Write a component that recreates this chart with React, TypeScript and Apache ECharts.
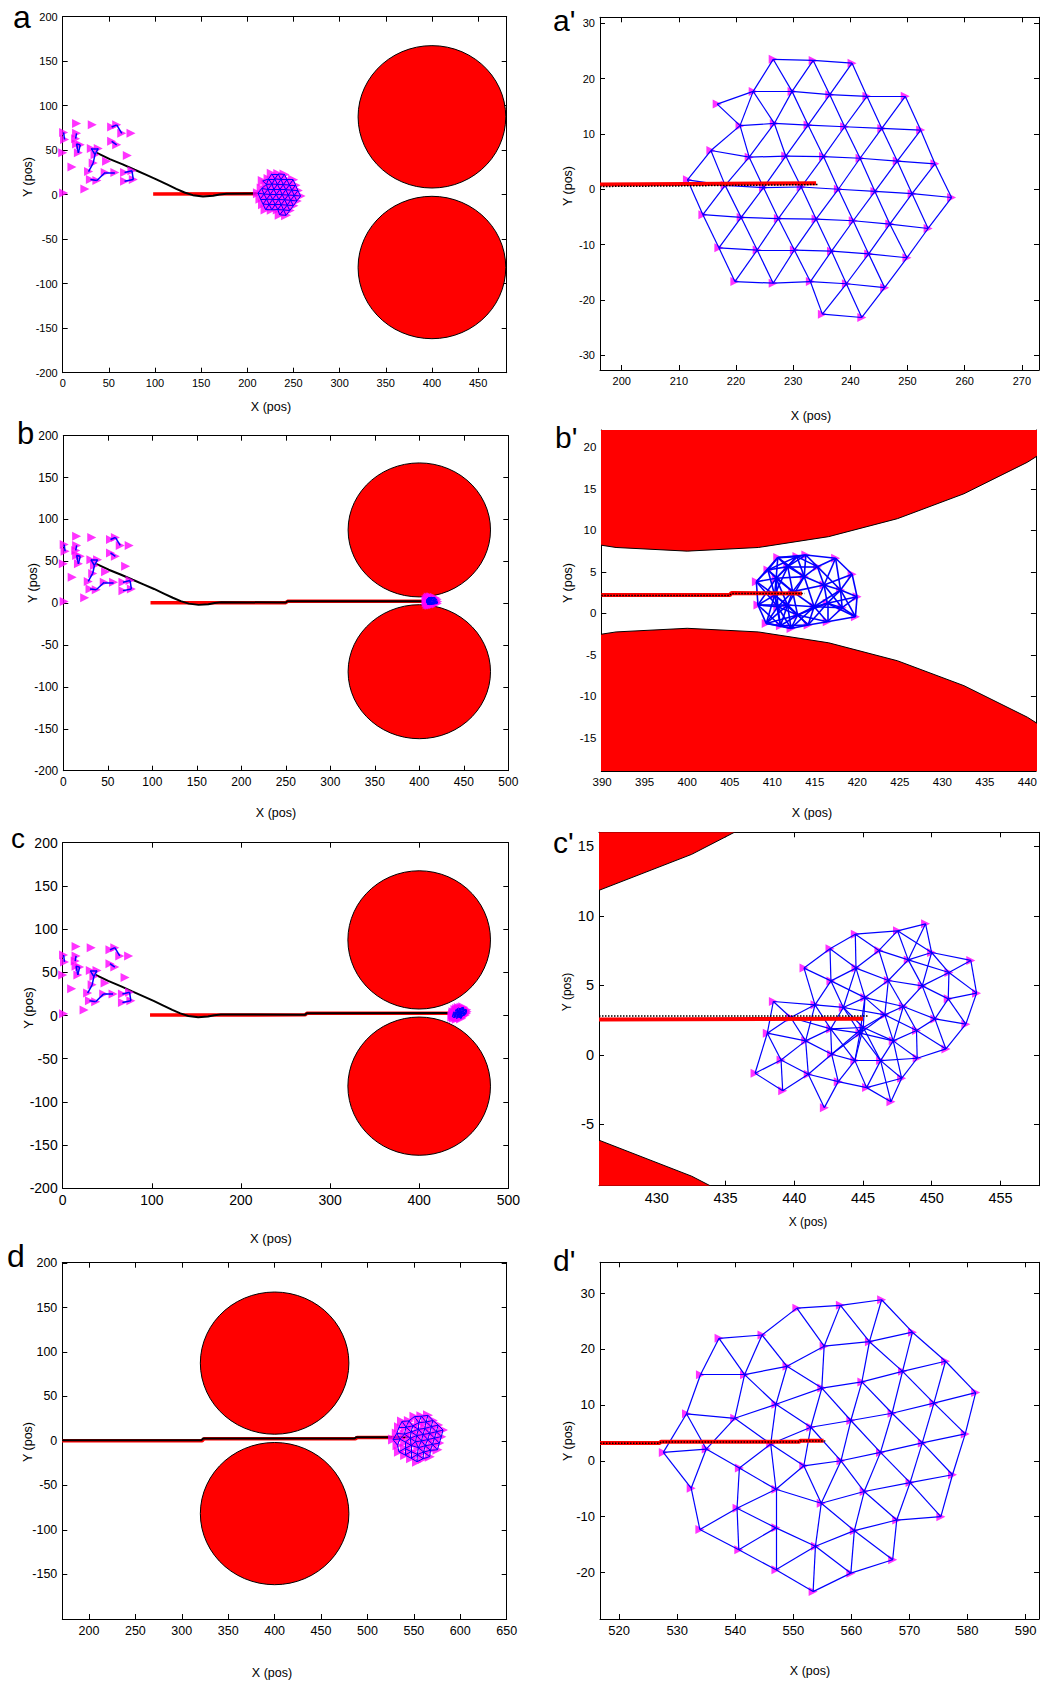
import React, { useEffect, useRef } from 'react';
import * as echarts from 'echarts';

const FONT = '"Liberation Sans", Arial, Helvetica, sans-serif';

// ---------- tick values ----------
const aXTicks = [0, 50, 100, 150, 200, 250, 300, 350, 400, 450];
const aYTicks = [-200, -150, -100, -50, 0, 50, 100, 150, 200];
const aPXTicks = [200, 210, 220, 230, 240, 250, 260, 270];
const aPYTicks = [-30, -20, -10, 0, 10, 20, 30];
const bXTicks = [0, 50, 100, 150, 200, 250, 300, 350, 400, 450, 500];
const bYTicks = [-200, -150, -100, -50, 0, 50, 100, 150, 200];
const bPXTicks = [390, 395, 400, 405, 410, 415, 420, 425, 430, 435, 440];
const bPYTicks = [-15, -10, -5, 0, 5, 10, 15, 20];
const cXTicks = [0, 100, 200, 300, 400, 500];
const cYTicks = [-200, -150, -100, -50, 0, 50, 100, 150, 200];
const cPXTicks = [430, 435, 440, 445, 450, 455];
const cPYTicks = [-5, 0, 5, 10, 15];
const dXTicks = [200, 250, 300, 350, 400, 450, 500, 550, 600, 650];
const dYTicks = [-150, -100, -50, 0, 50, 100, 150, 200];
const dPXTicks = [520, 530, 540, 550, 560, 570, 580, 590];
const dPYTicks = [-20, -10, 0, 10, 20, 30];

// ---------- obstacles (circle centres and radii) ----------
const obstacleCenterX = [400, 400];
const obstacleCenterY = [87.5, -81.8];
const obstacleRadius = [80, 80];

// ---------- initial scattered robots ----------
const initialRobots = [
  [15, 80], [32, 78.5], [1, 70], [2, 62], [15, 69], [14, 63],
  [53, 76], [58.5, 78.5], [64, 69], [74, 69],
  [53, 60], [58.5, 56],
  [0, 47], [15, 57], [17, 47], [19, 56],
  [31, 52], [38.5, 52], [35, 45], [33, 35.5], [28, 26],
  [47.5, 37.5], [70, 44], [10, 31],
  [30, 17], [37, 16], [46, 25], [56.5, 25],
  [67, 25], [75, 27], [67, 15], [76.5, 17],
  [24, 6.5], [1, 2],
];
const initialLinks = [
  [2, 3], [4, 5], [6, 7], [7, 8], [10, 11], [13, 14], [13, 15], [14, 15],
  [16, 17], [16, 18], [17, 18], [18, 19], [19, 20], [24, 25], [25, 26], [26, 27],
  [28, 29], [29, 31], [30, 31],
];

// ---------- formation nodes ----------
const meshA = [
  [226.5, 23.5], [233.5, 23.3], [240.3, 22.8],
  [216.7, 15.4], [223.0, 17.7], [229.8, 17.7], [236.4, 17.1], [242.9, 16.8], [249.6, 16.8],
  [220.7, 11.5], [226.7, 11.9], [232.6, 11.6], [239.0, 11.3], [245.5, 11.0], [252.3, 10.7],
  [215.6, 7.0], [222.3, 5.8], [228.7, 6.0], [235.3, 5.9], [241.7, 5.6], [248.2, 5.1], [254.8, 4.6],
  [211.5, 1.7], [218.1, 0.7], [224.8, 0.3], [231.4, 0.4], [237.9, 0.0], [244.3, -0.4], [250.8, -0.8], [257.7, -1.5],
  [214.2, -4.6], [220.9, -5.1], [227.4, -5.3], [234.0, -5.4], [240.5, -5.7], [246.9, -6.3], [253.6, -7.1],
  [217.0, -10.6], [223.7, -11.0], [230.2, -11.0], [236.7, -11.2], [243.2, -11.7], [249.9, -12.4],
  [219.8, -16.7], [226.5, -17.0], [233.0, -16.7], [239.3, -17.1], [246.0, -17.8],
  [235.1, -22.6], [242.0, -23.2],
];
const meshB = [
  [410.65, 6.72], [412.9, 6.84], [413.95, 7.04], [417.45, 6.64],
  [409.49, 5.23], [411.82, 5.63], [415.31, 5.63], [419.39, 4.71],
  [408.13, 3.82], [410.46, 4.23], [413.76, 4.43], [416.09, 3.42], [418.03, 2.82], [419.97, 2.01],
  [412.4, 2.62], [410.28, 2.21], [408.32, 1.01], [410.65, 0.8], [414.92, 0.8], [416.47, 1.21],
  [418.22, 0.68], [419.78, -0.4], [409.29, -1.21], [410.96, -1.49], [412.21, -1.81], [414.22, -1.41],
  [416.47, -1.01], [411.8, 1.0], [412.98, -0.2],
];
const meshC = [
  [449.55, 9.42], [447.51, 8.92], [444.44, 8.68], [442.6, 7.63], [446.16, 7.51], [449.99, 7.36],
  [452.84, 6.79], [440.71, 6.24], [444.49, 6.24], [448.29, 6.83], [451.25, 5.92], [442.67, 5.32],
  [446.84, 5.35], [449.31, 4.96], [453.26, 4.44], [438.48, 3.84], [441.51, 3.6], [443.57, 3.41],
  [445.14, 4.12], [447.93, 3.48], [451.2, 4.03], [439.74, 2.69], [446.59, 2.88], [450.23, 2.59],
  [452.48, 2.21], [438.04, 1.56], [442.65, 1.87], [444.78, 1.56], [445.02, 1.97], [448.89, 1.75],
  [440.83, 1.01], [447.2, 1.01], [451.03, 0.43], [439.04, -0.36], [442.72, 0.05], [444.41, -0.41],
  [446.28, -0.41], [448.94, -0.24], [437.15, -1.32], [441.02, -1.39], [443.2, -1.92], [447.81, -1.68],
  [439.16, -2.57], [445.26, -2.35], [442.19, -3.79], [447.03, -3.36],
];
const meshD = [
  [550.6, 27.3], [558.1, 27.8], [565.2, 28.8],
  [537.2, 21.9], [544.6, 22.5], [555.3, 20.5], [563.1, 21.3], [570.5, 23.0],
  [534.0, 15.4], [541.6, 15.4], [548.9, 16.9], [554.9, 13.0], [561.8, 14.1], [568.8, 16.0], [576.2, 17.8],
  [531.6, 8.4], [539.9, 7.6], [547.0, 10.1], [553.0, 6.0], [559.9, 7.2], [567.0, 8.5], [574.2, 10.3], [581.4, 12.2],
  [527.6, 1.5], [535.0, 2.1], [546.1, 3.0], [551.8, -0.9], [558.2, 0.0], [565.0, 1.5], [572.2, 3.2], [579.6, 4.8],
  [532.4, -4.9], [540.7, -1.3], [547.0, -5.1], [554.8, -7.6], [562.2, -5.5], [570.1, -3.9], [577.4, -2.5],
  [533.9, -12.3], [540.3, -8.5], [547.0, -12.0], [553.8, -15.3], [560.5, -12.5], [567.8, -10.6], [575.4, -10.0],
  [540.6, -15.9], [547.0, -19.5], [553.4, -23.4], [559.9, -20.1], [567.1, -17.7],
];

// ---------- trajectories ----------
const blackCurve = [
  [37, 47], [51, 40], [65, 34], [78, 28], [90, 22.5], [102, 17], [113, 11.5], [123, 6.5],
  [132, 2.5], [141, -0.5], [152, -2], [163, -1.2], [170, 0.3], [177.5, 1.2],
];
const blackTailA = [[212, 1.5]];
const redA = [[98, 0.8], [210, 1.2]];
const blackTailB = [[250, 0.8], [252, 2.3], [408, 2.3]];
const redB = [[98, 0.4], [250, 0.6], [252, 2.2], [406, 2.2]];
const blackTailC = [[272, 1], [274, 2.6], [438, 2.8]];
const redC = [[98, 0.5], [272, 0.8], [274, 2.5], [438, 2.6]];
const blackD = [[171, 0.6], [321, 0.6], [323, 2.7], [486, 2.7], [488, 4.2], [545, 4.2]];
const redD = [[171, 0.3], [322, 0.3], [324, 2.3], [487, 2.3], [489, 3.8], [540, 3.8]];
const redAP = [[196.2, 0.85], [211, 0.95], [234, 1.1]];
const blackAP = [[196.2, 0.5], [210, 0.6], [234.5, 0.85]];
const redBP = [[389.9, 2.2], [405, 2.2], [405.2, 2.45], [413.5, 2.4]];
const blackBP = [[389.9, 2.15], [405, 2.15], [405.2, 2.4], [413.8, 2.4]];
const redCP = [[425.8, 2.55], [445, 2.6]];
const blackCP = [[425.8, 2.8], [445.4, 2.8]];
const redDP = [[516.7, 3.2], [527, 3.2], [527.2, 3.4], [551, 3.4], [551.2, 3.6], [555.2, 3.6]];
const blackDP = [[516.7, 3.15], [527, 3.15], [527.2, 3.35], [551, 3.35], [551.2, 3.55], [555.5, 3.55]];

// ---------- layout ----------
const PANELS: any[] = [
  { grid: [62.7, 16.7, 444, 356], xr: [0, 481], yr: [-200, 200], xt: aXTicks, yt: aYTicks, fs: 11,
    letter: 'a', lx: 13, ly: 17, lfs: 32, xT: [271, 407], yT: [28, 177], tfs: 12.5,
    mesh: meshA, thr: 8.2, cluster: true, obst: true, red: redA, black: blackCurve.concat(blackTailA), zoom: false, ew: 1 },
  { grid: [600, 17.3, 439, 352.7], xr: [196.2, 273], yr: [-32.7, 31.1], xt: aPXTicks, yt: aPYTicks, fs: 11,
    letter: "a'", lx: 553, ly: 20, lfs: 30, xT: [811, 416], yT: [568, 186], tfs: 12.5,
    mesh: meshA, thr: 8.2, cluster: false, obst: false, red: redAP, black: blackAP, zoom: true, ew: 1.2 },
  { grid: [63.3, 435.7, 445, 335], xr: [0, 500], yr: [-200, 200], xt: bXTicks, yt: bYTicks, fs: 12,
    letter: 'b', lx: 17, ly: 433, lfs: 31, xT: [276, 813], yT: [33, 583], tfs: 12.5,
    mesh: meshB, thr: 4.0, cluster: true, obst: true, red: redB, black: blackCurve.concat(blackTailB), zoom: false, ew: 1 },
  { grid: [601.3, 430, 438, 341], xr: [389.9, 441], yr: [-19, 22.1], xt: bPXTicks, yt: bPYTicks, fs: 11.5,
    letter: "b'", lx: 555, ly: 437, lfs: 30, xT: [812, 813], yT: [568, 583], tfs: 12.5,
    mesh: meshB, thr: 4.0, cluster: false, obst: true, red: redBP, black: blackBP, zoom: true, ew: 1.6 },
  { grid: [62.7, 842.7, 445.6, 345.6], xr: [0, 500], yr: [-200, 200], xt: cXTicks, yt: cYTicks, fs: 14,
    letter: 'c', lx: 11, ly: 838, lfs: 28, xT: [271, 1238], yT: [28, 1008], tfs: 13,
    mesh: meshC, thr: 3.1, cluster: true, obst: true, red: redC, black: blackCurve.concat(blackTailC), zoom: false, ew: 1 },
  { grid: [599, 832.3, 440, 353.4], xr: [425.8, 457.8], yr: [-9.4, 16], xt: cPXTicks, yt: cPYTicks, fs: 14.5,
    letter: "c'", lx: 553, ly: 842, lfs: 30, xT: [808, 1222], yT: [567, 992], tfs: 12,
    mesh: meshC, thr: 3.1, cluster: false, obst: true, red: redCP, black: blackCP, zoom: true, ew: 1.2 },
  { grid: [62.3, 1262.7, 444.4, 356.3], xr: [171.3, 650], yr: [-200.4, 200.5], xt: dXTicks, yt: dYTicks, fs: 12.5,
    letter: 'd', lx: 7, ly: 1256, lfs: 32, xT: [272, 1673], yT: [28, 1442], tfs: 12.5,
    mesh: meshD, thr: 8.6, cluster: false, obst: true, red: redD, black: blackD, zoom: false, ew: 1 },
  { grid: [600, 1262.3, 439, 356.7], xr: [516.7, 592.3], yr: [-28.3, 35.5], xt: dPXTicks, yt: dPYTicks, fs: 13,
    letter: "d'", lx: 553, ly: 1260, lfs: 30, xT: [810, 1671], yT: [568, 1441], tfs: 12.5,
    mesh: meshD, thr: 8.6, cluster: false, obst: false, red: redDP, black: blackDP, zoom: true, ew: 1.2 },
];

function meshEdges(nodes: number[][], thr: number) {
  const out: any[] = [];
  for (let i = 0; i < nodes.length; i++) {
    for (let j = i + 1; j < nodes.length; j++) {
      const dx = nodes[i][0] - nodes[j][0];
      const dy = nodes[i][1] - nodes[j][1];
      if (Math.sqrt(dx * dx + dy * dy) < thr) out.push({ coords: [nodes[i], nodes[j]] });
    }
  }
  return out;
}

function buildOption() {
  const grid: any[] = [];
  const xAxis: any[] = [];
  const yAxis: any[] = [];
  const series: any[] = [];
  const graphic: any[] = [];
  const axisLine = { show: true, onZero: false, lineStyle: { color: '#000', width: 1 } };
  const tick = (vals: number[]) => ({ show: true, inside: true, length: 5, customValues: vals, lineStyle: { color: '#000', width: 1 } });

  PANELS.forEach((p, i) => {
    grid.push({ left: p.grid[0], top: p.grid[1], width: p.grid[2], height: p.grid[3], containLabel: false });
    const lab = (vals: number[], m: number) => ({
      show: true, customValues: vals, fontSize: p.fs, color: '#000', fontFamily: FONT, margin: m,
    });
    xAxis.push({ type: 'value', gridIndex: i, position: 'bottom', min: p.xr[0], max: p.xr[1],
      axisLine, axisTick: tick(p.xt), axisLabel: lab(p.xt, 5), splitLine: { show: false } });
    xAxis.push({ type: 'value', gridIndex: i, position: 'top', min: p.xr[0], max: p.xr[1],
      axisLine, axisTick: tick(p.xt), axisLabel: { show: false }, splitLine: { show: false } });
    yAxis.push({ type: 'value', gridIndex: i, position: 'left', min: p.yr[0], max: p.yr[1],
      axisLine, axisTick: tick(p.yt), axisLabel: lab(p.yt, 5), splitLine: { show: false } });
    yAxis.push({ type: 'value', gridIndex: i, position: 'right', min: p.yr[0], max: p.yr[1],
      axisLine, axisTick: tick(p.yt), axisLabel: { show: false }, splitLine: { show: false } });

    const ax = { xAxisIndex: 2 * i, yAxisIndex: 2 * i };

    if (p.obst) {
      series.push({
        type: 'custom', ...ax, clip: true, z: 2, silent: true,
        data: obstacleCenterX.map((cx, k) => [cx, obstacleCenterY[k], obstacleRadius[k]]),
        encode: { x: 0, y: 1 },
        renderItem: (params: any, api: any) => {
          const cx = api.value(0), cy = api.value(1), r = api.value(2);
          const pts: number[][] = [];
          const N = 60;
          for (let k = 0; k < N; k++) {
            const t = (k / N) * Math.PI * 2;
            pts.push(api.coord([cx + r * Math.cos(t), cy + r * Math.sin(t)]));
          }
          return { type: 'polygon', shape: { points: pts }, style: { fill: '#ff0000', stroke: '#000', lineWidth: 1 } };
        },
      });
    }

    const trajZ = p.zoom ? 6 : 3;
    series.push({
      type: 'line', ...ax, data: p.red, showSymbol: false, symbol: 'none', silent: true, z: trajZ,
      lineStyle: { color: '#ff0000', width: p.zoom ? 4 : 3.5 }, clip: true,
    });
    series.push({
      type: 'line', ...ax, data: p.black, showSymbol: false, symbol: 'none', silent: true, z: trajZ + 0.1,
      lineStyle: { color: '#000', width: p.zoom ? 1.5 : 2, type: p.zoom ? 'dotted' : 'solid' }, clip: true,
    });

    if (p.cluster) {
      series.push({
        type: 'scatter', ...ax, data: initialRobots, symbol: 'triangle', symbolRotate: -90, symbolSize: 9,
        itemStyle: { color: '#ff00ff' }, silent: true, z: 4,
      });
      series.push({
        type: 'lines', coordinateSystem: 'cartesian2d', ...ax, silent: true, z: 5,
        data: initialLinks.map(([a, b]) => ({ coords: [initialRobots[a], initialRobots[b]] })),
        lineStyle: { color: '#0000ff', width: 1.5, opacity: 1 },
      });
    }

    series.push({
      type: 'scatter', ...ax, data: p.mesh, symbol: 'triangle', symbolRotate: -90, symbolSize: p.zoom ? 9 : 10,
      itemStyle: { color: '#ff00ff' }, silent: true, z: 4,
    });
    series.push({
      type: 'lines', coordinateSystem: 'cartesian2d', ...ax, silent: true, z: 5,
      data: meshEdges(p.mesh, p.thr),
      lineStyle: { color: '#0000ff', width: p.ew, opacity: 1 },
    });

    graphic.push({
      type: 'text', x: p.lx, y: p.ly, silent: true,
      style: { text: p.letter, fontSize: p.lfs, fontFamily: FONT, fill: '#000', textAlign: 'left', textVerticalAlign: 'middle' },
    });
    graphic.push({
      type: 'text', x: p.xT[0], y: p.xT[1], silent: true,
      style: { text: 'X (pos)', fontSize: p.tfs, fontFamily: FONT, fill: '#000', textAlign: 'center', textVerticalAlign: 'middle' },
    });
    graphic.push({
      type: 'text', x: p.yT[0], y: p.yT[1], rotation: Math.PI / 2, silent: true,
      style: { text: 'Y (pos)', fontSize: p.tfs, fontFamily: FONT, fill: '#000', textAlign: 'center', textVerticalAlign: 'middle' },
    });
  });

  return {
    animation: false,
    backgroundColor: '#fff',
    textStyle: { fontFamily: FONT },
    grid, xAxis, yAxis, series, graphic,
  };
}

export default function App() {
  const ref = useRef<HTMLDivElement>(null);
  useEffect(() => {
    document.body.style.margin = '0';
    if (!ref.current) return;
    const chart = echarts.init(ref.current, undefined, { renderer: 'svg' });
    chart.setOption(buildOption() as any);
    return () => chart.dispose();
  }, []);
  return <div ref={ref} style={{ width: 1040, height: 1682, background: '#fff' }} />;
}
